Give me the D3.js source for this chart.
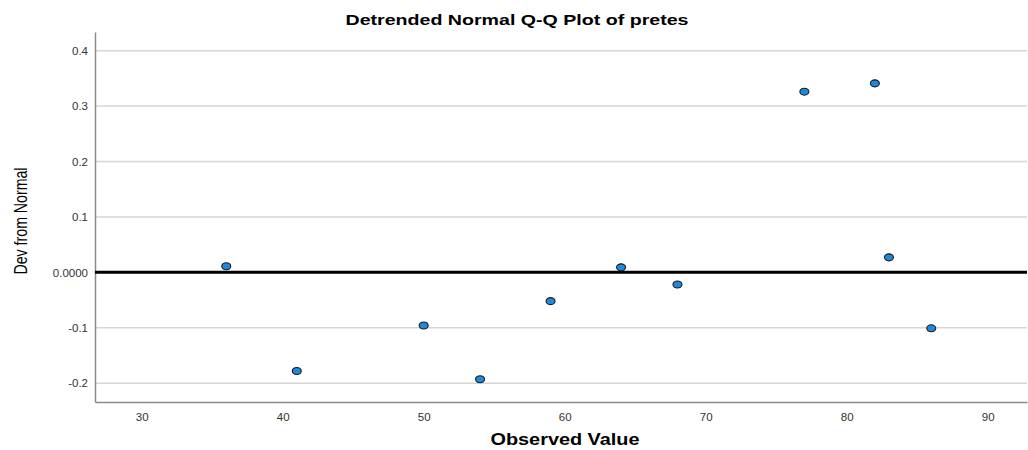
<!DOCTYPE html>
<html><head><meta charset="utf-8">
<script src="https://cdn.jsdelivr.net/npm/d3@7"></script>
<style>body{margin:0;background:#fff}svg{display:block}</style>
</head><body>
<svg id="c" width="1028" height="450"></svg>
<script>
const observed = [36, 41, 50, 54, 59, 64, 68, 77, 82, 83, 86];
const deviation = [0.011, -0.178, -0.096, -0.193, -0.052, 0.009, -0.022, 0.326, 0.341, 0.027, -0.101];
const xTicks = [30, 40, 50, 60, 70, 80, 90];
const yTicks = [-0.2, -0.1, 0.0, 0.1, 0.2, 0.3, 0.4];
const yTickLabels = ["-0.2", "-0.1", "0.0000", "0.1", "0.2", "0.3", "0.4"];

const svg = d3.select("#c");
const L = 95, R = 1027, T = 32, B = 402;
const x = d3.scaleLinear().domain([26.69, 92.79]).range([L, R]);
const y = d3.scaleLinear().domain([-0.234, 0.4337]).range([B, T]);

// gridlines
svg.append("g").selectAll("line").data(yTicks.filter(d => d !== 0)).join("line")
  .attr("x1", L).attr("x2", R).attr("y1", d => y(d)).attr("y2", d => y(d))
  .attr("stroke", "#d6d6d6").attr("stroke-width", 1.5);

// axes
const yAxis = d3.axisLeft(y).tickValues(yTicks).tickSize(0).tickPadding(7)
  .tickFormat((d, i) => yTickLabels[i]);
const gy = svg.append("g").attr("transform", `translate(${L},0)`).call(yAxis);
gy.select(".domain").attr("stroke", "#8a8a8a").attr("stroke-width", 1.5);
gy.selectAll("text").attr("font-family", "Liberation Sans, Arial, sans-serif").attr("font-size", 11.5).attr("fill", "#333");

const xAxis = d3.axisBottom(x).tickValues(xTicks).tickSize(0).tickPadding(11).tickFormat(d3.format("d"));
const gx = svg.append("g").attr("transform", `translate(0,${B})`).call(xAxis);
gx.select(".domain").attr("stroke", "#8a8a8a").attr("stroke-width", 1.5);
gx.selectAll("text").attr("font-family", "Liberation Sans, Arial, sans-serif").attr("font-size", 11.5).attr("fill", "#333");

// zero reference line
svg.append("line").attr("x1", L).attr("x2", R).attr("y1", y(0)).attr("y2", y(0))
  .attr("stroke", "#000").attr("stroke-width", 3);

// points
svg.append("g").selectAll("ellipse").data(observed.map((d, i) => [d, deviation[i]])).join("ellipse")
  .attr("cx", d => x(d[0])).attr("cy", d => y(d[1])).attr("rx", 4.5).attr("ry", 3.5)
  .attr("fill", "#1f88d9").attr("stroke", "#1a1a1a").attr("stroke-width", 1.1);

// title
svg.append("text").attr("x", 517).attr("y", 25).attr("text-anchor", "middle")
  .attr("font-family", "Liberation Sans, Arial, sans-serif").attr("font-weight", "bold").attr("font-size", 15)
  .attr("textLength", 343).attr("lengthAdjust", "spacingAndGlyphs")
  .text("Detrended Normal Q-Q Plot of pretes");

// x label
svg.append("text").attr("x", 565).attr("y", 445).attr("text-anchor", "middle")
  .attr("font-family", "Liberation Sans, Arial, sans-serif").attr("font-weight", "bold").attr("font-size", 16)
  .attr("textLength", 149).attr("lengthAdjust", "spacingAndGlyphs")
  .text("Observed Value");

// y label
svg.append("text").attr("transform", "translate(26.5,221) rotate(-90)").attr("text-anchor", "middle")
  .attr("font-family", "Liberation Sans, Arial, sans-serif").attr("font-size", 19)
  .attr("textLength", 107).attr("lengthAdjust", "spacingAndGlyphs")
  .text("Dev from Normal");
</script>
</body></html>
